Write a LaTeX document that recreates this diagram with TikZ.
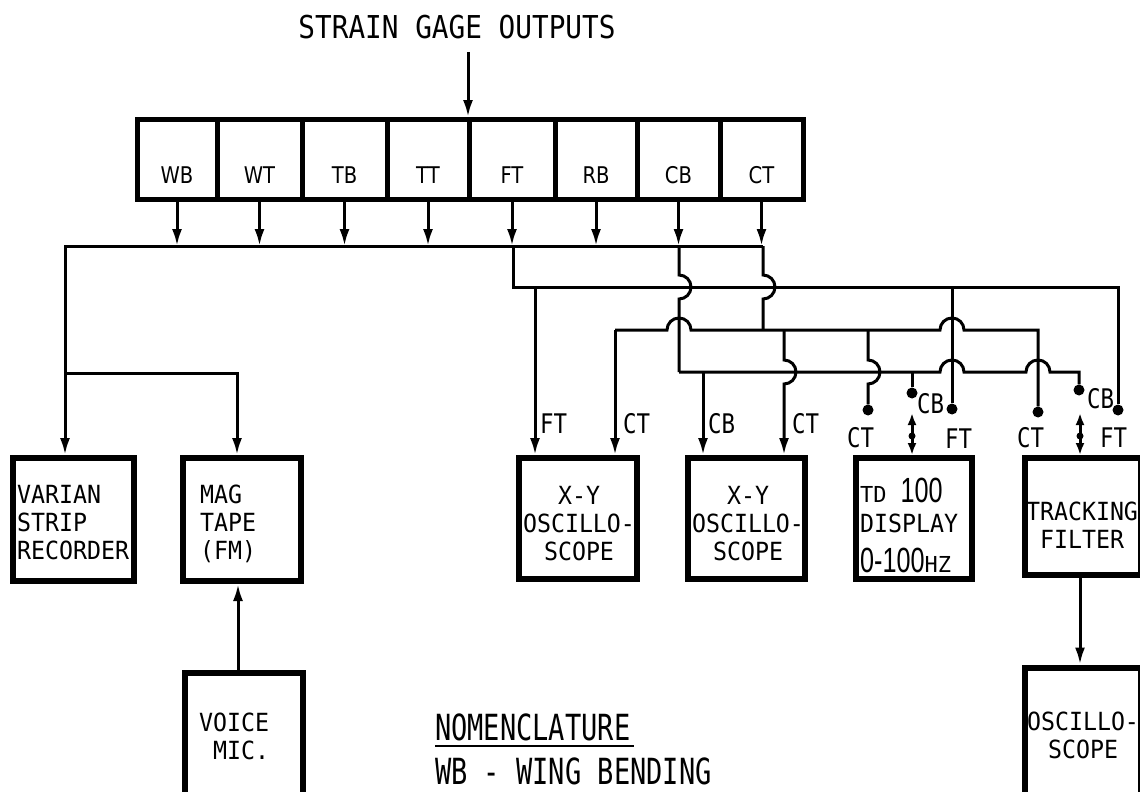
\documentclass[tikz,border=0pt]{standalone}
\usepackage{fontspec}
\usepackage{graphicx}
\usetikzlibrary{arrows.meta,calc}
\newfontfamily\fTitle[FakeStretch=0.88]{DejaVu Sans Mono}
\newfontfamily\fNom[FakeStretch=0.75]{DejaVu Sans Mono}
\newfontfamily\fBox[FakeStretch=0.93]{DejaVu Sans Mono}
\newfontfamily\fPin[FakeStretch=0.83]{DejaVu Sans Mono}
\newfontfamily\fSm{DejaVu Sans Mono}
\newfontfamily\fNum[FakeStretch=0.72]{Liberation Sans}
\newfontfamily\fCell[FakeStretch=0.85]{DejaVu Sans}
\newcommand\titlefont{\fTitle\fontsize{31.5}{36}\selectfont}
\newcommand\nomfont{\fNom\fontsize{36}{40}\selectfont}
\newcommand\boxfont{\fBox\fontsize{25}{28}\selectfont}
\newcommand\pinfont{\fPin\fontsize{27}{30}\selectfont}
\newcommand\smfont{\fSm\fontsize{22}{24}\selectfont}
\newcommand\numfont{\fNum\fontsize{35}{38}\selectfont}
\newcommand\cellfont{\fCell\fontsize{23}{26}\selectfont}
\begin{document}
\begin{tikzpicture}[x=1pt,y=-1pt,
  wire/.style={line width=3pt},
  arr/.style={wire,-{Latex[length=17pt,width=10pt]}},
  dbl/.style={wire,{Latex[length=12pt,width=9pt]}-{Latex[length=12pt,width=9pt]}},
  box/.style={draw,line width=6pt,rectangle,inner sep=0pt},
  cell/.style={draw,line width=5pt,rectangle,inner sep=0pt,minimum height=80pt,
    font=\cellfont,text height=50pt,text depth=3pt},
  pindot/.style={circle,fill,inner sep=0pt,minimum size=11pt},
  middot/.style={circle,fill,inner sep=0pt,minimum size=7pt},
  pinlab/.style={inner sep=0pt,anchor=base west,font=\pinfont},
  boxtxt/.style={inner sep=0pt,font=\boxfont},
  plain/.style={inner sep=0pt,anchor=base west}]
\useasboundingbox (0,0) rectangle (1140,792);

% title
\node[inner sep=0pt,anchor=base,font=\titlefont] (title) at (457,38) {STRAIN GAGE OUTPUTS};

% strain gage cells
\node[cell,minimum width=80pt] (wb) at (177,159.5) {WB};
\node[cell,minimum width=85pt] (wt) at (259.5,159.5) {WT};
\node[cell,minimum width=85pt] (tb) at (344.5,159.5) {TB};
\node[cell,minimum width=82pt] (tt) at (428,159.5) {TT};
\node[cell,minimum width=86pt] (ft) at (512,159.5) {FT};
\node[cell,minimum width=82pt] (rb) at (596,159.5) {RB};
\node[cell,minimum width=83pt] (cb) at (678.5,159.5) {CB};
\node[cell,minimum width=83pt] (ct) at (761.5,159.5) {CT};

\coordinate (sgIn) at (468,52);
\draw[arr] (sgIn) -- (sgIn |- tt.north);

% boxes
\node[box,minimum width=121pt,minimum height=123pt] (varian) at (73.5,519.5) {};
\node[box,minimum width=118pt,minimum height=123pt] (mag) at (242,519.5) {};
\node[box,minimum width=118pt,minimum height=125pt] (voice) at (244,735) {};
\node[box,minimum width=118pt,minimum height=121pt] (xy1) at (578,518.5) {};
\node[box,minimum width=117pt,minimum height=121pt] (xy2) at (746.5,518.5) {};
\node[box,minimum width=116pt,minimum height=121pt] (td) at (914,518.5) {};
\node[box,minimum width=116pt,minimum height=117pt] (track) at (1083,516.5) {};
\node[box,minimum width=116pt,minimum height=130pt] (osc) at (1083,732.5) {};

% box texts
\node[boxtxt,anchor=north west,align=left] (varT) at (17,485) {VARIAN\\STRIP\\RECORDER};
\node[boxtxt,anchor=north west,align=left] (magT) at (200,485) {MAG\\TAPE\\(FM)};
\node[boxtxt,anchor=north west,align=left] (voiT) at (199,713) {VOICE\\~MIC.};
\node[boxtxt,anchor=north,align=center] (xy1T) at (579,486) {X-Y\\OSCILLO-\\SCOPE};
\node[boxtxt,anchor=north,align=center] (xy2T) at (748,486) {X-Y\\OSCILLO-\\SCOPE};
\node[boxtxt,anchor=north,align=center] (trT) at (1082,502) {TRACKING\\FILTER};
\node[boxtxt,anchor=north,align=center] (oscT) at (1083,712) {OSCILLO-\\SCOPE};
\node[plain] (tdl1) at (860,502) {{\smfont TD}\hspace{14pt}{\numfont 100}};
\node[plain,font=\boxfont] (tdl2) at (860,532) {DISPLAY};
\node[plain] (tdl3) at (860,572) {{\numfont 0-100}{\smfont HZ}};

% bus coordinates
\coordinate (bus0) at (65,246);
\coordinate (busFT) at (513,246);
\coordinate (busCB) at (679,246);
\coordinate (busCT) at (763,246);
\coordinate (split) at (65,373);
\coordinate (A0) at (513,287);
\coordinate (A1) at (535,287);
\coordinate (A2) at (952,287);
\coordinate (A3) at (1118,287);
\coordinate (B0) at (615,330);
\coordinate (B1) at (763,330);
\coordinate (B2) at (784,330);
\coordinate (B3) at (868,330);
\coordinate (B4) at (1038,330);
\coordinate (C0) at (679,372);
\coordinate (C1) at (703,372);
\coordinate (C2) at (912,372);
\coordinate (C3) at (1079,372);
\coordinate (tdSel) at (912,413);
\coordinate (trSel) at (1080,413);

% pin dots
\node[pindot] (tdCTd) at (868,410) {};
\node[pindot] (tdCBd) at (912,393) {};
\node[pindot] (tdFTd) at (952,409) {};
\node[pindot] (trCTd) at (1038,412) {};
\node[pindot] (trCBd) at (1079,390) {};
\node[pindot] (trFTd) at (1118,410) {};

% cell outputs to bus
\foreach \c in {wb,wt,tb,tt,ft,rb,cb,ct}
  \draw[arr] (\c.south) -- (\c.south |- bus0);

% bus and left recorders
\draw[wire] (busCT) -- (bus0) -- (split);
\draw[arr] (split) -- (split |- varian.north);
\draw[arr] (split) -| ([xshift=-5pt]mag.north);
\draw[arr] ([xshift=-6pt]voice.north) -- ([xshift=-6pt]voice.north |- mag.south);

% line A (FT)
\draw[wire] (busFT) -- (A0) -- (A3) -- (trFTd);
\draw[arr] (A1) -- (A1 |- xy1.north);
\draw[wire] (A2) -- (tdFTd);

% CB vertical and CT vertical from bus
\draw[wire] (busCB) -- ($(busCB |- A0)+(0,-12)$) arc[start angle=90,end angle=-90,radius=12pt] -- (C0);
\draw[wire] (busCT) -- ($(busCT |- A0)+(0,-12)$) arc[start angle=90,end angle=-90,radius=12pt] -- (B1);

% line B (CT)
\draw[wire] (B0) -- ($(busCB |- B0)+(-12,0)$) arc[start angle=180,end angle=0,radius=12pt]
  -- ($(A2 |- B0)+(-12,0)$) arc[start angle=180,end angle=0,radius=12pt] -- (B4) -- (trCTd);
\draw[arr] (B0) -- (B0 |- xy1.north);
\draw[arr] (B2) -- ($(B2 |- C0)+(0,-12)$) arc[start angle=90,end angle=-90,radius=12pt] -- (B2 |- xy2.north);
\draw[wire] (B3) -- ($(B3 |- C0)+(0,-12)$) arc[start angle=90,end angle=-90,radius=12pt] -- (tdCTd);

% line C (CB)
\draw[wire] (C0) -- ($(A2 |- C0)+(-12,0)$) arc[start angle=180,end angle=0,radius=12pt]
  -- ($(B4 |- C0)+(-12,0)$) arc[start angle=180,end angle=0,radius=12pt] -- (C3) -- (trCBd);
\draw[arr] (C1) -- (C1 |- xy2.north);
\draw[wire] (C2) -- (tdCBd);

% selector arrows
\draw[dbl] (tdSel) -- (tdSel |- td.north);
\node[middot] (tdMid) at (912,436) {};
\draw[dbl] (trSel) -- (trSel |- track.north);
\node[middot] (trMid) at (1080,436) {};

% tracking filter to oscilloscope
\draw[arr] ([xshift=-3pt]track.south) -- ([xshift=-3pt]track.south |- osc.north);

% pin labels
\node[pinlab] (l1) at (540,433) {FT};
\node[pinlab] (l2) at (623,433) {CT};
\node[pinlab] (l3) at (708,433) {CB};
\node[pinlab] (l4) at (792,433) {CT};
\node[pinlab] (l5) at (847,447) {CT};
\node[pinlab] (l6) at (917,413) {CB};
\node[pinlab] (l7) at (945,448) {FT};
\node[pinlab] (l8) at (1017,447) {CT};
\node[pinlab] (l9) at (1087,408) {CB};
\node[pinlab] (l10) at (1100,447) {FT};

% nomenclature
\node[plain,font=\nomfont] (nom) at (435,740) {NOMENCLATURE};
\draw[line width=2.4pt] ([yshift=-6pt]nom.base west) -- ([yshift=-6pt,xshift=4pt]nom.base east);
\node[plain,font=\nomfont] (nomwb) at (435,784) {WB - WING BENDING};
\end{tikzpicture}
\end{document}
